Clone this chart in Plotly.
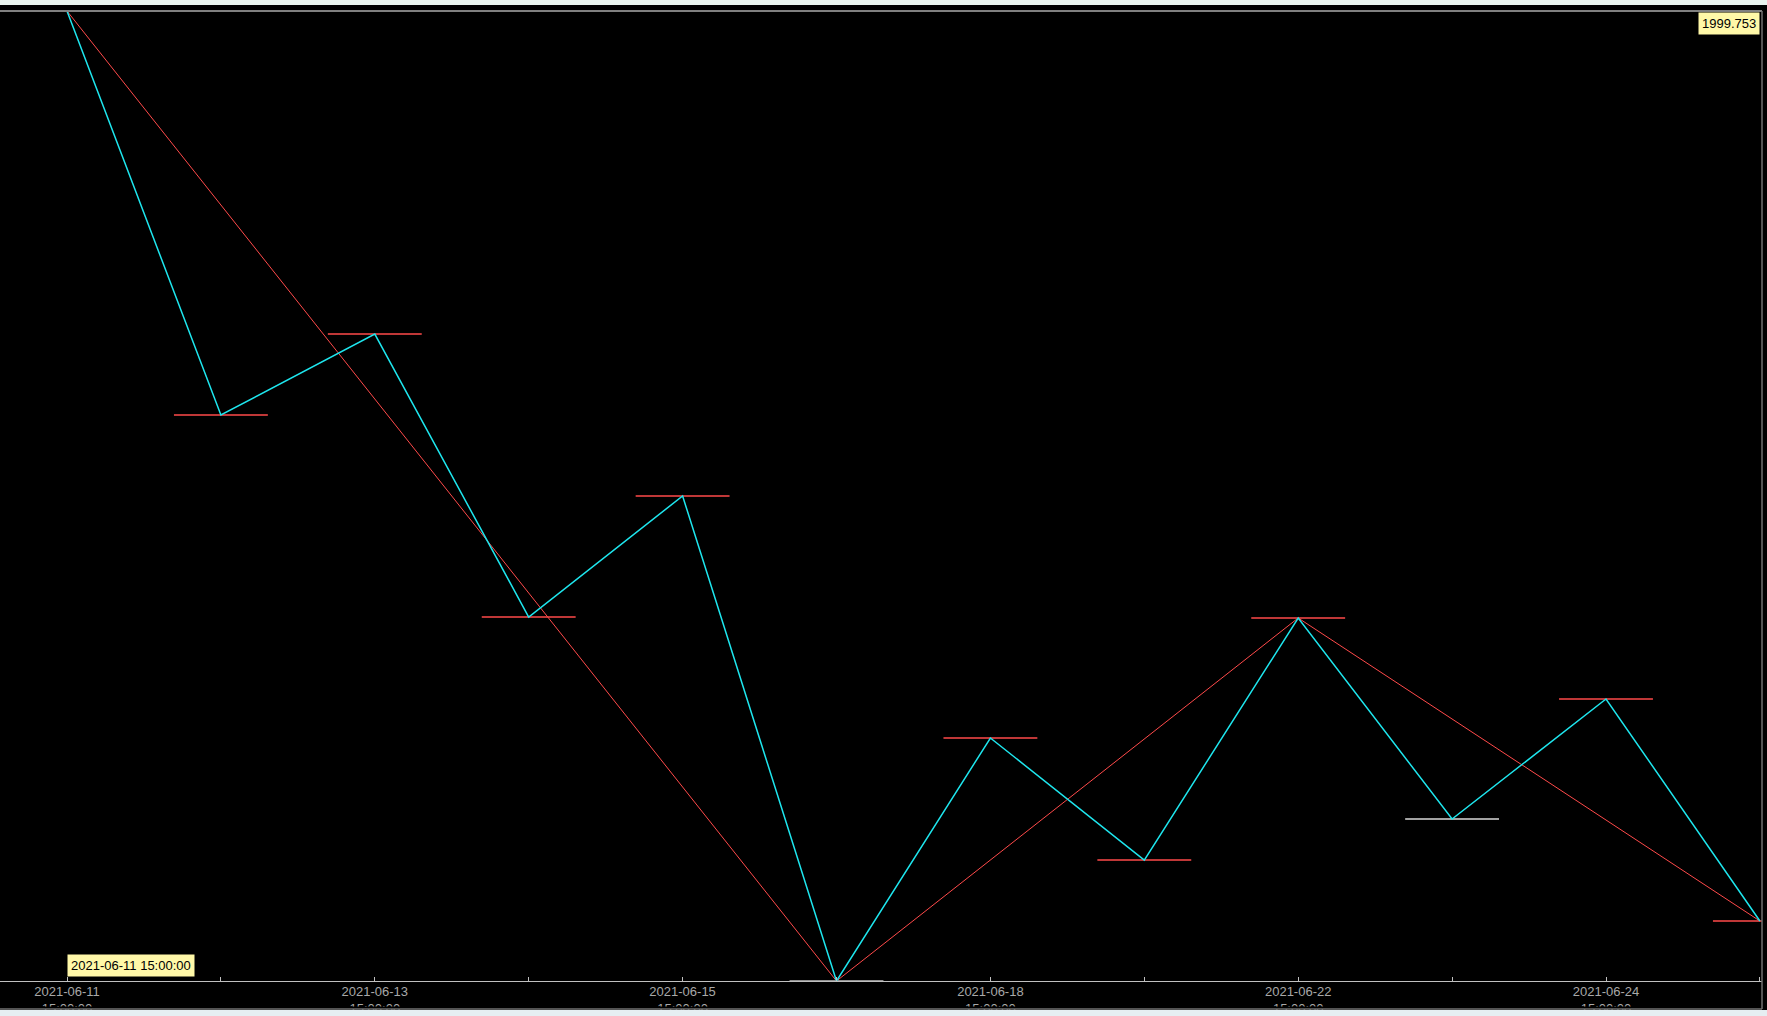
import plotly.graph_objects as go

# ---- data ----
dates = ["2021-06-11 15:00:00", "2021-06-12 15:00:00", "2021-06-13 15:00:00",
         "2021-06-14 15:00:00", "2021-06-15 15:00:00", "2021-06-17 15:00:00",
         "2021-06-18 15:00:00", "2021-06-21 15:00:00", "2021-06-22 15:00:00",
         "2021-06-23 15:00:00", "2021-06-24 15:00:00", "2021-06-25 15:00:00"]
prices = [1999.753, 1946.54, 1957.21, 1919.94, 1935.88, 1872.00,
          1904.00, 1887.93, 1919.81, 1893.33, 1909.14, 1879.90]
level_colors = ["#ff4a4a", "#ff4a4a", "#ff4a4a", "#ff4a4a", "#ff4a4a", "#c0c0c0",
                "#ff4a4a", "#ff4a4a", "#ff4a4a", "#d8d8d8", "#ff4a4a", "#ff4a4a"]
major_pivots = [0, 5, 8, 11]
labelled_idx = [0, 2, 4, 6, 8, 10]

y_min, y_max = 1872.00, 1999.753
idx = list(range(len(prices)))
HALF = 0.305  # half width of level markers in index units

fig = go.Figure()

# level markers (horizontal segments)
for i, (p, c) in enumerate(zip(prices, level_colors)):
    fig.add_trace(go.Scatter(x=[i - HALF, i + HALF], y=[p, p], mode="lines",
                             line=dict(color=c, width=1.5), hoverinfo="skip",
                             showlegend=False))

# major zigzag (red)
fig.add_trace(go.Scatter(x=major_pivots, y=[prices[i] for i in major_pivots],
                         mode="lines", line=dict(color="#ff4a4a", width=1),
                         showlegend=False))
# minor zigzag (cyan)
fig.add_trace(go.Scatter(x=idx, y=prices, mode="lines",
                         line=dict(color="#1ee6ee", width=1.5), showlegend=False))

W, H = 1767, 1016
ml, mr, mt, mb = 0, 5, 11, 35
pw, ph = W - ml - mr, H - mt - mb
spacing = 153.9
x0 = -67 / spacing
x1 = x0 + pw / spacing

def py(p):  # pixel row -> paper y
    return (H - mb - p) / ph

ticktext = []
for i, d in enumerate(dates):
    if i in labelled_idx:
        a, b = d.split(" ")
        ticktext.append(a + "<br>" + b)
    else:
        ticktext.append("")

fig.update_layout(
    width=W, height=H,
    margin=dict(l=ml, r=mr, t=mt, b=mb, pad=0),
    paper_bgcolor="#000000", plot_bgcolor="#000000",
    font=dict(family="Liberation Sans, Arial, sans-serif", size=13, color="#a8a8a8"),
    xaxis=dict(range=[x0, x1], tickvals=idx, ticktext=ticktext,
               ticks="inside", ticklen=4, tickcolor="#c0c0c0", tickwidth=1,
               showgrid=False, zeroline=False, showline=True, linecolor="#c0c0c0",
               linewidth=1, tickfont=dict(size=13, color="#a8a8a8"),
               ticklabelstandoff=-2),
    yaxis=dict(range=[y_min, y_max], showticklabels=False, showgrid=False,
               zeroline=False, ticks=""),
    showlegend=False,
    shapes=[
        # mask below tick text
        dict(type="rect", xref="paper", yref="paper", x0=-0.01, x1=1.01,
             y0=py(1009), y1=py(1006.5), fillcolor="#000000", line_width=0, layer="above"),
        # light strips top & bottom
        dict(type="rect", xref="paper", yref="paper", x0=-0.01, x1=1.01,
             y0=py(5), y1=py(-2), fillcolor="#eaf4ef", line_width=0, layer="above"),
        dict(type="rect", xref="paper", yref="paper", x0=-0.01, x1=1.01,
             y0=py(1018), y1=py(1010), fillcolor="#e6eef2", line_width=0, layer="above"),
        # frame lines
        dict(type="line", xref="paper", yref="paper", x0=-0.01, x1=1.0,
             y0=py(11), y1=py(11), line=dict(color="#808080", width=2), layer="above"),
        dict(type="line", xref="paper", yref="paper", x0=-0.01, x1=1.0,
             y0=py(1009), y1=py(1009), line=dict(color="#707070", width=1.5), layer="above"),
        dict(type="line", xref="paper", yref="paper", x0=1.0, x1=1.0,
             y0=py(1009), y1=py(11), line=dict(color="#707070", width=1.5), layer="above"),
    ],
    annotations=[
        dict(xref="paper", yref="paper", x=(1760 - ml) / pw, y=py(12),
             xanchor="right", yanchor="top", text="1999.753", showarrow=False,
             bgcolor="#fff8a8", font=dict(color="#000000", size=13,
                                          family="Liberation Sans, Arial, sans-serif"),
             borderpad=3),
        dict(xref="paper", yref="paper", x=67 / pw, y=py(977),
             xanchor="left", yanchor="bottom", text=dates[0], showarrow=False,
             bgcolor="#fff8a8", font=dict(color="#000000", size=13,
                                          family="Liberation Sans, Arial, sans-serif"),
             borderpad=3),
    ],
)

fig.write_html("out.html", config={"displayModeBar": False},
               post_script="document.body.style.margin='0';document.body.style.overflow='hidden';")
